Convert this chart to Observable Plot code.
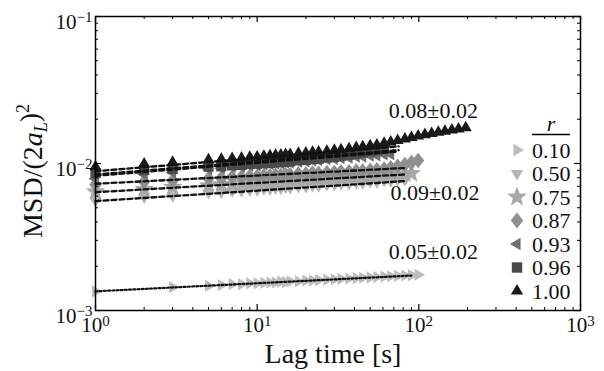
<!DOCTYPE html>
<html><head><meta charset="utf-8">
<script src="https://cdn.jsdelivr.net/npm/d3@7"></script>
<script src="https://cdn.jsdelivr.net/npm/@observablehq/plot@0.6"></script>
<style>
html,body{margin:0;padding:0;background:#fff;}
#chart svg{display:block;}
</style></head><body><div id="chart"></div>
<script>
// ---- data ----
const lags = [1,2,3,5,6,7,8,9,10,11,12,13,14,15,16,18,20,22,24,27,30,33,37,41,45,50,55,61,67,74,82,90,99,109,120,132,145,160,176,195];
const rLabels = ["0.10","0.50","0.75","0.87","0.93","0.96","1.00"];
const seriesColors = ["#bdbdbd","#b4b4b4","#a8a8a8","#909090","#6f6f6f","#4a4a4a","#1a1a1a"];
const msd010 = [0.00135,null,0.00144,0.00147,0.00149,0.00151,0.00151,0.00153,0.00153,0.00154,0.00155,0.00155,0.00157,0.00156,0.00158,0.00158,0.00160,0.00160,0.00161,0.00162,0.00163,0.00164,0.00165,0.00166,0.00167,0.00168,0.00169,0.00170,0.00171,0.00172,0.00173,0.00174,0.00175];
const msd050 = [0.00558,0.00593,0.00604,0.00636,0.00639,0.00651,0.00652,0.00663,0.00664,0.00673,0.00672,0.00681,0.00680,0.00689,0.00686,0.00699,0.00698,0.00709,0.00707,0.00720,0.00719,0.00731,0.00730,0.00744,0.00741,0.00755,0.00752,0.00766,0.00763,0.00778,0.00776];
const msd075 = [0.00642,0.00667,0.00689,0.00706,0.00719,0.00721,0.00733,0.00733,0.00743,0.00742,0.00751,0.00750,0.00759,0.00757,0.00765,0.00766,0.00776,0.00776,0.00785,0.00786,0.00796,0.00796,0.00807,0.00807,0.00816,0.00817,0.00827,0.00828,0.00838,0.00840,0.00850,0.00856];
const msd087 = [0.00718,0.00752,0.00763,0.00791,0.00794,0.00806,0.00807,0.00817,0.00817,0.00827,0.00825,0.00834,0.00832,0.00841,0.00839,0.00850,0.00850,0.00859,0.00858,0.00869,0.00869,0.00879,0.00879,0.00889,0.00889,0.00899,0.00905,0.00918,0.00935,0.00958,0.00985,0.01015,0.01048];
const msd093 = [0.00788,0.00844,0.00870,0.00918,0.00928,0.00946,0.00951,0.00968,0.00971,0.00986,0.00988,0.01001,0.01002,0.01014,0.01014,0.01031,0.01035,0.01050,0.01052,0.01070,0.01074,0.01089,0.01094,0.01111,0.01114,0.01131,0.01135,0.01151,0.01156];
const msd096 = [0.00860,0.00902,0.00918,0.00952,0.00958,0.00972,0.00978,0.00992,0.00997,0.01007,0.01008,0.01021,0.01023,0.01032,0.01034,0.01052,0.01058,0.01072,0.01078,0.01098,0.01108,0.01128,0.01148,0.01168,0.01188,0.01208,0.01232,0.01260];
const msd100 = [0.00950,0.00992,0.01018,0.01062,0.01068,0.01082,0.01088,0.01102,0.01108,0.01122,0.01128,0.01138,0.01140,0.01152,0.01153,0.01172,0.01178,0.01192,0.01198,0.01212,0.01228,0.01242,0.01258,0.01282,0.01298,0.01322,0.01338,0.01372,0.01398,0.01432,0.01468,0.01502,0.01538,0.01572,0.01598,0.01632,0.01658,0.01692,0.01718,0.01752];
// power-law fits MSD = A * t^alpha, drawn from t = 1 to fitEnd
const fitPrefactor = [0.00135,0.00555,0.00638,0.00728,0.00825,0.00842,0.00886];
const fitExponent  = [0.055,0.071,0.063,0.056,0.088,0.088,0.090];
const fitEnd       = [90,82,82,82,72,75,75];
const annotationText = ["0.08±0.02","0.09±0.02","0.05±0.02"];
const annotationLag  = [123,126,123];
const annotationMsd  = [0.0226,0.0063,0.00252];
const xMajor = [1,10,100,1000];
const xMinor = [2,3,4,5,6,7,8,9,20,30,40,50,60,70,80,90,200,300,400,500,600,700,800,900];
const yMajor = [0.001,0.01,0.1];
const yMinor = [0.002,0.003,0.004,0.005,0.006,0.007,0.008,0.009,0.02,0.03,0.04,0.05,0.06,0.07,0.08,0.09];

// ---- symbols ----
function poly(points){
  return {draw(ctx, size){
    const s = Math.sqrt(size/Math.PI);
    points.forEach(([x,y],i)=> i ? ctx.lineTo(x*s,y*s) : ctx.moveTo(x*s,y*s));
    ctx.closePath();
  }};
}
const R = 1.3, c30 = Math.cos(Math.PI/6);
const triUp = poly([[0,-R],[R*c30,R/2],[-R*c30,R/2]]);
const triDown = poly([[0,R],[R*c30,-R/2],[-R*c30,-R/2]]);
const triRight = poly([[R,0],[-R/2,R*c30],[-R/2,-R*c30]]);
const triLeft = poly([[-R,0],[R/2,R*c30],[R/2,-R*c30]]);
const squareSym = poly([[-0.95,-0.95],[0.95,-0.95],[0.95,0.95],[-0.95,0.95]]);
const diamondSym = poly([[0,-1.45],[1.15,0],[0,1.45],[-1.15,0]]);
const starPts = [];
for (let i=0;i<10;i++){ const a = -Math.PI/2 + i*Math.PI/5; const rr = i%2 ? 0.8 : 1.9; starPts.push([rr*Math.cos(a), rr*Math.sin(a)]); }
const starSym = poly(starPts);
const seriesSymbols = [triRight, triDown, starSym, diamondSym, triLeft, squareSym, triUp];
const seriesValues = [msd010, msd050, msd075, msd087, msd093, msd096, msd100];

const rows = seriesValues.map((vals, k) => vals.map((v,i)=>({lag: lags[i], msd: v, r: rLabels[k]})).filter(d=>d.msd!=null));
const fitRows = rLabels.map((r,k)=>[1, fitEnd[k]].map(t=>({lag:t, msd: fitPrefactor[k]*Math.pow(t, fitExponent[k]), r})));
const annotations = annotationText.map((t,i)=>({text:t, lag: annotationLag[i], msd: annotationMsd[i]}));

const W = 604, H = 371, mL = 95, mR = 24, mT = 16, mB = 61;
const pw = W - mL - mR, ph = H - mT - mB;

const marks = [];
rows.forEach((data,k)=> marks.push(Plot.dot(data, {x:"lag", y:"msd", r:5.4, symbol: seriesSymbols[k], fill: seriesColors[k], stroke: "none"})));
marks.push(Plot.line(fitRows.slice(1).flat(), {x:"lag", y:"msd", z:"r", stroke:"#111", strokeWidth:2.3, strokeDasharray:"5,3"}));
marks.push(Plot.line(fitRows[0], {x:"lag", y:"msd", stroke:"#111", strokeWidth:2.2, strokeDasharray:"2,2.2"}));
marks.push(Plot.text(annotations, {x:"lag", y:"msd", text:"text", fontSize:22, fill:"#111"}));
// ticks (inward, on all four sides)
marks.push(Plot.ruleX(xMajor, {insetTop: ph-6, stroke:"#000", strokeWidth:1.2}));
marks.push(Plot.ruleX(xMajor, {insetBottom: ph-6, stroke:"#000", strokeWidth:1.2}));
marks.push(Plot.ruleX(xMinor, {insetTop: ph-3, stroke:"#000", strokeWidth:1}));
marks.push(Plot.ruleX(xMinor, {insetBottom: ph-3, stroke:"#000", strokeWidth:1}));
marks.push(Plot.ruleY(yMajor, {insetRight: pw-6, stroke:"#000", strokeWidth:1.2}));
marks.push(Plot.ruleY(yMajor, {insetLeft: pw-6, stroke:"#000", strokeWidth:1.2}));
marks.push(Plot.ruleY(yMinor, {insetRight: pw-3, stroke:"#000", strokeWidth:1}));
marks.push(Plot.ruleY(yMinor, {insetLeft: pw-3, stroke:"#000", strokeWidth:1}));
marks.push(Plot.frame({stroke:"#000", strokeWidth:1.5}));
marks.push(Plot.axisX(xMajor, {anchor:"bottom", tickSize:0, tickPadding:7, fontSize:21, label:null, tickFormat: d=>"10^"+Math.round(Math.log10(d))}));
marks.push(Plot.axisY(yMajor, {anchor:"left", tickSize:0, tickPadding:3, dy:6, fontSize:21, label:null, tickFormat: d=>"10^"+Math.round(Math.log10(d))}));

const svg = Plot.plot({
  width: W, height: H,
  marginLeft: mL, marginRight: mR, marginTop: mT, marginBottom: mB,
  style: {fontFamily: "'Liberation Serif', 'Times New Roman', serif", background: "#fff", color: "#111"},
  x: {type:"log", domain:[1,1000]},
  y: {type:"log", domain:[0.001,0.1]},
  marks
});

const s = d3.select(svg);
// superscript tick labels
s.selectAll('g[aria-label="x-axis tick label"] text, g[aria-label="y-axis tick label"] text').each(function(){
  const m = this.textContent.match(/^10\^(.+)$/);
  if (!m) return;
  const exp = m[1].replace("-", "\u2212");
  this.textContent = "";
  const t = d3.select(this);
  t.append("tspan").text("10");
  t.append("tspan").attr("dy","-0.45em").attr("font-size","15px").text(exp);
});
// axis titles
s.append("text").attr("x", 333).attr("y", 363).attr("text-anchor","middle")
  .attr("font-size", 28).attr("fill","#111").text("Lag time [s]");
const yl = s.append("text").attr("transform","translate(42,171) rotate(-90)").attr("text-anchor","middle")
  .attr("font-size", 28).attr("fill","#111");
yl.append("tspan").text("MSD/(2");
yl.append("tspan").attr("font-style","italic").text("a");
yl.append("tspan").attr("font-style","italic").attr("font-size","18px").attr("dy","0.3em").text("L");
yl.append("tspan").attr("dy","-0.3em").text(")");
yl.append("tspan").attr("font-size","18px").attr("dy","-0.55em").text("2");
// legend
const lg = s.append("g").attr("font-size", 22).attr("fill","#111");
lg.append("text").attr("x", 551).attr("y", 131).attr("text-anchor","middle").attr("font-style","italic").text("r");
lg.append("line").attr("x1",532).attr("x2",570).attr("y1",134.5).attr("y2",134.5).attr("stroke","#000").attr("stroke-width",1.5);
rLabels.forEach((lab,k)=>{
  const yc = 150 + k*23.5;
  lg.append("path").attr("transform",`translate(517,${yc})`).attr("d", d3.symbol(seriesSymbols[k], 30*Math.PI)()).attr("fill", seriesColors[k]);
  lg.append("text").attr("x",532).attr("y",yc).attr("dy","0.35em").attr("text-anchor","start").text(lab);
});

document.getElementById("chart").appendChild(svg);
</script>
</body></html>
